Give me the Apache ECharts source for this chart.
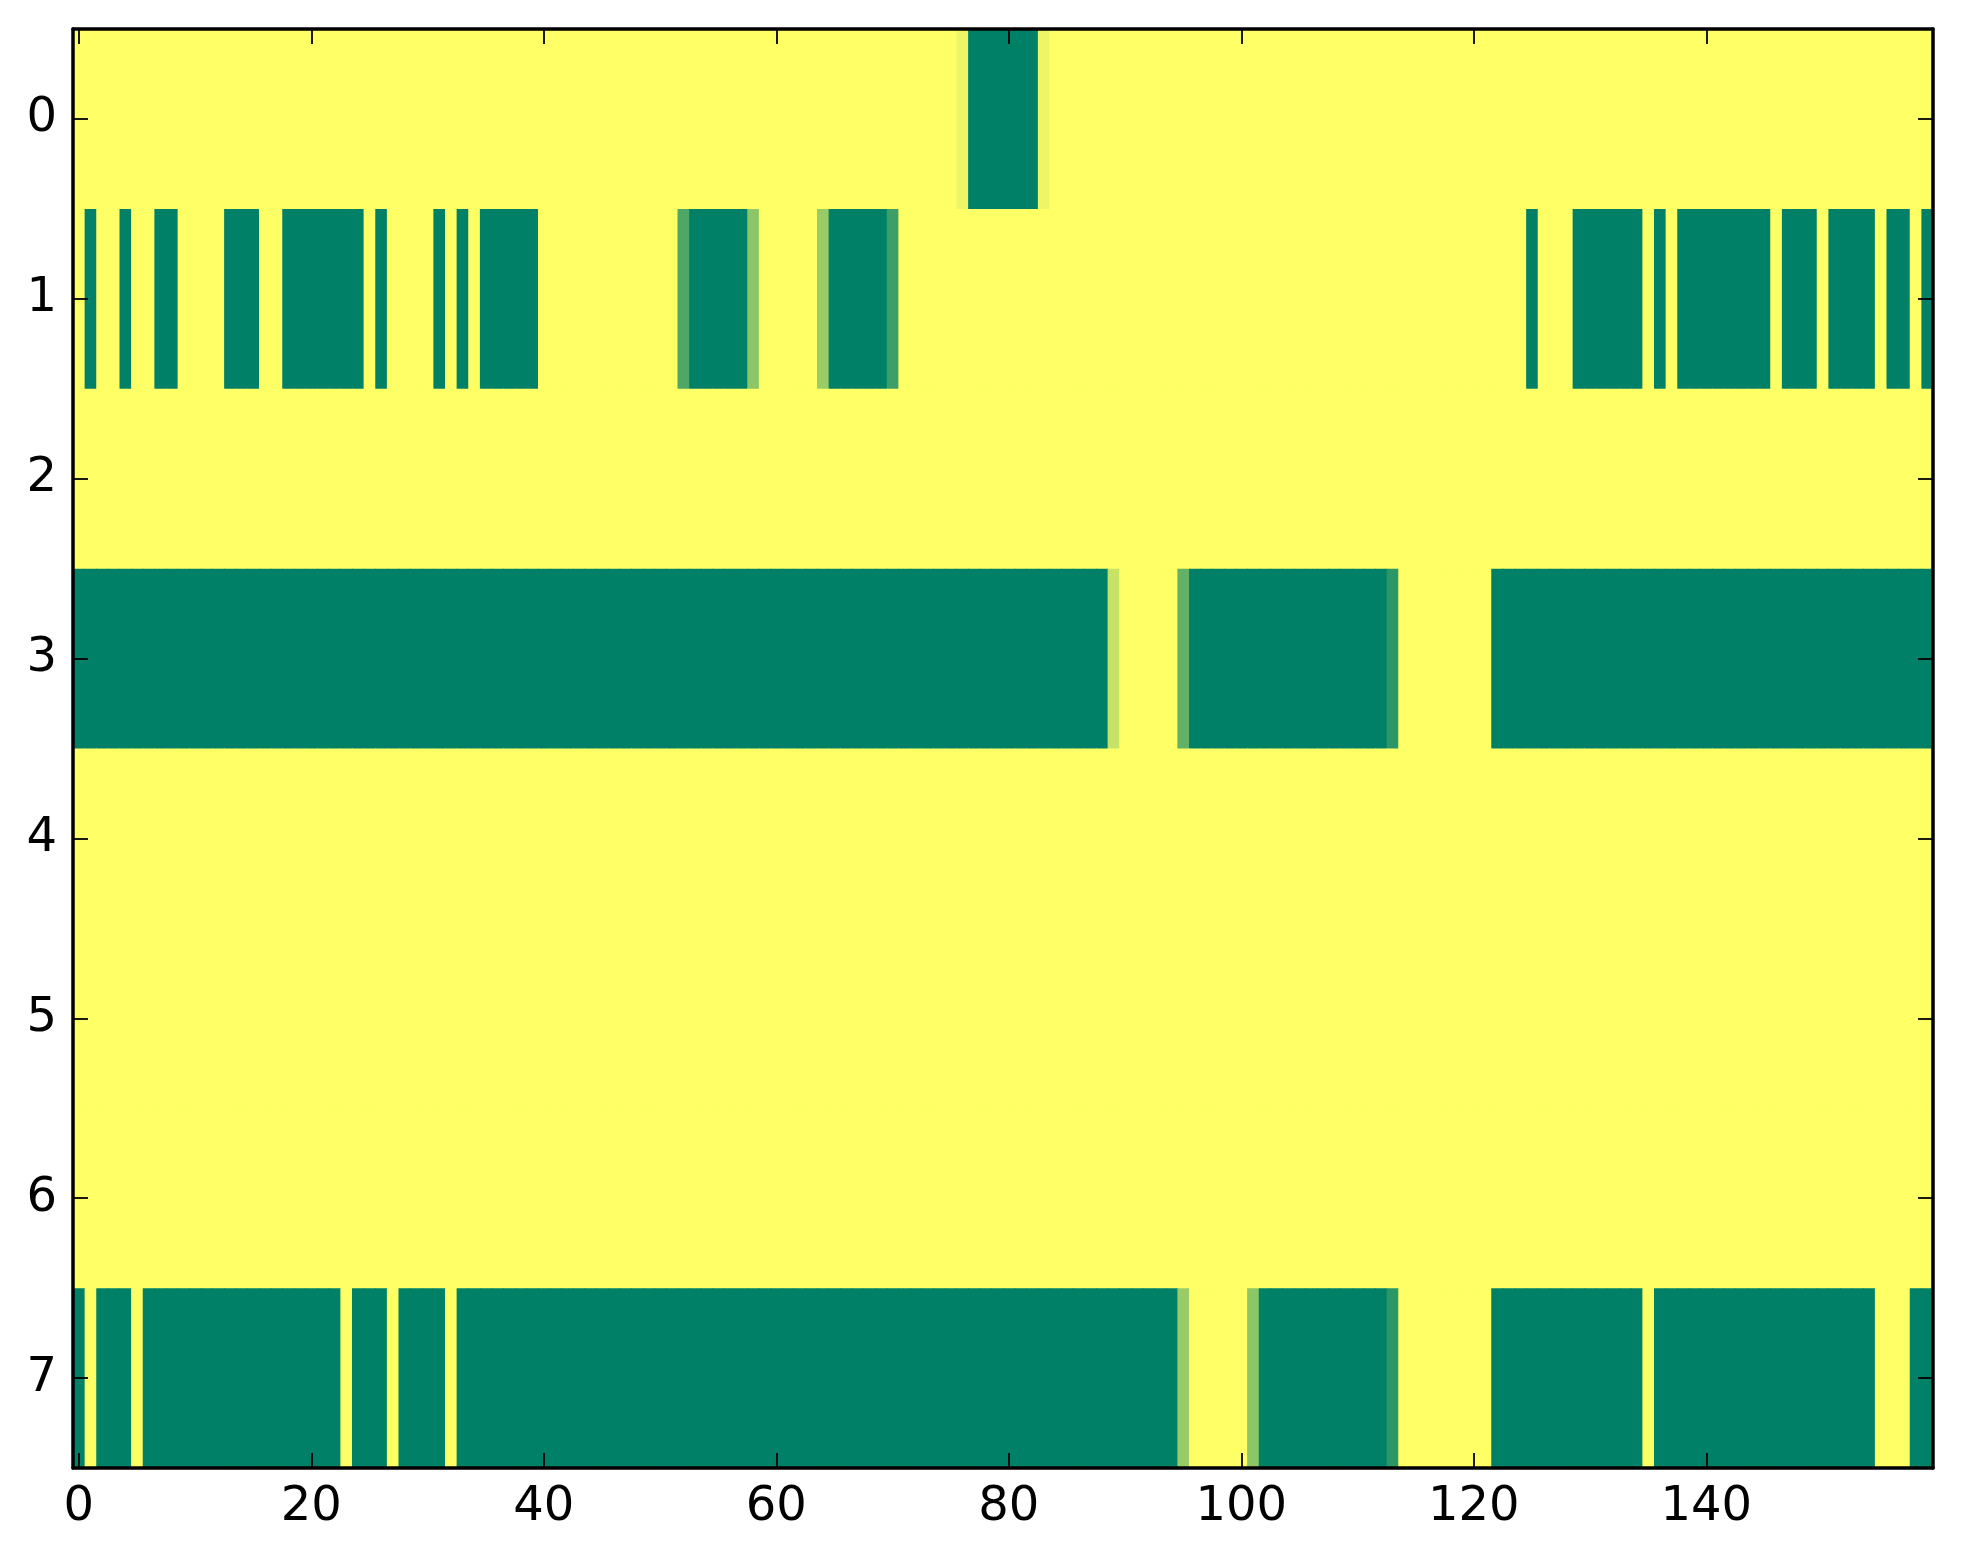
<!DOCTYPE html>
<html>
<head>
<meta charset="utf-8">
<script src="https://cdn.jsdelivr.net/npm/echarts@6/dist/echarts.min.js"></script>
<style>
html,body{margin:0;padding:0;background:#fff;}
#chart{width:1963px;height:1564px;}
</style>
</head>
<body>
<div id="chart"></div>
<script>
// Row values (0 = dark green, 1 = yellow), 160 columns each
var row0 = [
  1,1,1,1,1,1,1,1,1,1, 1,1,1,1,1,1,1,1,1,1, 1,1,1,1,1,1,1,1,1,1, 1,1,1,1,1,1,1,1,1,1,
  1,1,1,1,1,1,1,1,1,1, 1,1,1,1,1,1,1,1,1,1, 1,1,1,1,1,1,1,1,1,1, 1,1,1,1,1,1,0.93,0,0,0,
  0,0,0,0.93,1,1,1,1,1,1, 1,1,1,1,1,1,1,1,1,1, 1,1,1,1,1,1,1,1,1,1, 1,1,1,1,1,1,1,1,1,1,
  1,1,1,1,1,1,1,1,1,1, 1,1,1,1,1,1,1,1,1,1, 1,1,1,1,1,1,1,1,1,1, 1,1,1,1,1,1,1,1,1,1
];
var row1 = [
  1,0,1,1,0,1,1,0,0,1, 1,1,1,0,0,0,1,1,0,0, 0,0,0,0,0,1,0,1,1,1, 1,0,1,0,1,0,0,0,0,0,
  1,1,1,1,1,1,1,1,1,1, 1,1,0.31,0,0,0,0,0,0.55,1, 1,1,1,1,0.6,0,0,0,0,0, 0.24,1,1,1,1,1,1,1,1,1,
  1,1,1,1,1,1,1,1,1,1, 1,1,1,1,1,1,1,1,1,1, 1,1,1,1,1,1,1,1,1,1, 1,1,1,1,1,1,1,1,1,1,
  1,1,1,1,1,0,1,1,1,0, 0,0,0,0,0,1,0,1,0,0, 0,0,0,0,0,0,1,0,0,0, 1,0,0,0,0,1,0,0,1,0
];
var row2 = [
  1,1,1,1,1,1,1,1,1,1, 1,1,1,1,1,1,1,1,1,1, 1,1,1,1,1,1,1,1,1,1, 1,1,1,1,1,1,1,1,1,1,
  1,1,1,1,1,1,1,1,1,1, 1,1,1,1,1,1,1,1,1,1, 1,1,1,1,1,1,1,1,1,1, 1,1,1,1,1,1,1,1,1,1,
  1,1,1,1,1,1,1,1,1,1, 1,1,1,1,1,1,1,1,1,1, 1,1,1,1,1,1,1,1,1,1, 1,1,1,1,1,1,1,1,1,1,
  1,1,1,1,1,1,1,1,1,1, 1,1,1,1,1,1,1,1,1,1, 1,1,1,1,1,1,1,1,1,1, 1,1,1,1,1,1,1,1,1,1
];
var row3 = [
  0,0,0,0,0,0,0,0,0,0, 0,0,0,0,0,0,0,0,0,0, 0,0,0,0,0,0,0,0,0,0, 0,0,0,0,0,0,0,0,0,0,
  0,0,0,0,0,0,0,0,0,0, 0,0,0,0,0,0,0,0,0,0, 0,0,0,0,0,0,0,0,0,0, 0,0,0,0,0,0,0,0,0,0,
  0,0,0,0,0,0,0,0,0,0.78, 1,1,1,1,1,0.385,0,0,0,0, 0,0,0,0,0,0,0,0,0,0, 0,0,0,0.17,1,1,1,1,1,1,
  1,1,0,0,0,0,0,0,0,0, 0,0,0,0,0,0,0,0,0,0, 0,0,0,0,0,0,0,0,0,0, 0,0,0,0,0,0,0,0,0,0
];
var row4 = [
  1,1,1,1,1,1,1,1,1,1, 1,1,1,1,1,1,1,1,1,1, 1,1,1,1,1,1,1,1,1,1, 1,1,1,1,1,1,1,1,1,1,
  1,1,1,1,1,1,1,1,1,1, 1,1,1,1,1,1,1,1,1,1, 1,1,1,1,1,1,1,1,1,1, 1,1,1,1,1,1,1,1,1,1,
  1,1,1,1,1,1,1,1,1,1, 1,1,1,1,1,1,1,1,1,1, 1,1,1,1,1,1,1,1,1,1, 1,1,1,1,1,1,1,1,1,1,
  1,1,1,1,1,1,1,1,1,1, 1,1,1,1,1,1,1,1,1,1, 1,1,1,1,1,1,1,1,1,1, 1,1,1,1,1,1,1,1,1,1
];
var row5 = [
  1,1,1,1,1,1,1,1,1,1, 1,1,1,1,1,1,1,1,1,1, 1,1,1,1,1,1,1,1,1,1, 1,1,1,1,1,1,1,1,1,1,
  1,1,1,1,1,1,1,1,1,1, 1,1,1,1,1,1,1,1,1,1, 1,1,1,1,1,1,1,1,1,1, 1,1,1,1,1,1,1,1,1,1,
  1,1,1,1,1,1,1,1,1,1, 1,1,1,1,1,1,1,1,1,1, 1,1,1,1,1,1,1,1,1,1, 1,1,1,1,1,1,1,1,1,1,
  1,1,1,1,1,1,1,1,1,1, 1,1,1,1,1,1,1,1,1,1, 1,1,1,1,1,1,1,1,1,1, 1,1,1,1,1,1,1,1,1,1
];
var row6 = [
  1,1,1,1,1,1,1,1,1,1, 1,1,1,1,1,1,1,1,1,1, 1,1,1,1,1,1,1,1,1,1, 1,1,1,1,1,1,1,1,1,1,
  1,1,1,1,1,1,1,1,1,1, 1,1,1,1,1,1,1,1,1,1, 1,1,1,1,1,1,1,1,1,1, 1,1,1,1,1,1,1,1,1,1,
  1,1,1,1,1,1,1,1,1,1, 1,1,1,1,1,1,1,1,1,1, 1,1,1,1,1,1,1,1,1,1, 1,1,1,1,1,1,1,1,1,1,
  1,1,1,1,1,1,1,1,1,1, 1,1,1,1,1,1,1,1,1,1, 1,1,1,1,1,1,1,1,1,1, 1,1,1,1,1,1,1,1,1,1
];
var row7 = [
  0,1,0,0,0,1,0,0,0,0, 0,0,0,0,0,0,0,0,0,0, 0,0,0,1,0,0,0,1,0,0, 0,0,1,0,0,0,0,0,0,0,
  0,0,0,0,0,0,0,0,0,0, 0,0,0,0,0,0,0,0,0,0, 0,0,0,0,0,0,0,0,0,0, 0,0,0,0,0,0,0,0,0,0,
  0,0,0,0,0,0,0,0,0,0, 0,0,0,0,0,0.6,1,1,1,1, 1,0.55,0,0,0,0,0,0,0,0, 0,0,0,0.17,1,1,1,1,1,1,
  1,1,0,0,0,0,0,0,0,0, 0,0,0,0,0,1,0,0,0,0, 0,0,0,0,0,0,0,0,0,0, 0,0,0,0,0,1,1,1,0,0
];
var rows = [row0, row1, row2, row3, row4, row5, row6, row7];

var xCategories = row0.map(function (v, i) { return String(i); });
var yCategories = ['0', '1', '2', '3', '4', '5', '6', '7'];
var xTickLabels = ['0', '20', '40', '60', '80', '100', '120', '140'];

var data = [];
rows.forEach(function (r, y) {
  r.forEach(function (v, x) { data.push([x, y, v]); });
});

var FONT = 'DejaVu Sans';
var xTickFn = function (index) { return xTickLabels.indexOf(String(index)) >= 0; };
var lineStyle = { color: '#000', width: 3.5 };
var tickStyle = { color: '#000', width: 1.8 };

function xAxisCfg(pos, showLabel) {
  return {
    type: 'category', data: xCategories, position: pos, z: 10,
    axisLine: { show: true, onZero: false, lineStyle: lineStyle },
    axisTick: { show: true, inside: true, length: 15, alignWithLabel: true, interval: xTickFn, lineStyle: tickStyle },
    axisLabel: { show: showLabel, interval: xTickFn, color: '#000', fontFamily: FONT, fontSize: 48, margin: 16 },
    splitLine: { show: false }
  };
}
function yAxisCfg(pos, showLabel) {
  return {
    type: 'category', data: yCategories, position: pos, inverse: true, z: 10,
    axisLine: { show: true, onZero: false, lineStyle: lineStyle },
    axisTick: { show: true, inside: true, length: 15, alignWithLabel: true, interval: 0, lineStyle: tickStyle },
    axisLabel: { show: showLabel, interval: 0, color: '#000', fontFamily: FONT, fontSize: 48, margin: 16 },
    splitLine: { show: false }
  };
}

var chart = echarts.init(document.getElementById('chart'), null, { renderer: 'canvas' });
chart.setOption({
  backgroundColor: '#fff',
  animation: false,
  grid: { left: 73, right: 30, top: 29, bottom: 96, containLabel: false },
  xAxis: [xAxisCfg('bottom', true), xAxisCfg('top', false)],
  yAxis: [yAxisCfg('left', true), yAxisCfg('right', false)],
  visualMap: {
    show: false, type: 'continuous', min: 0, max: 1, dimension: 2, seriesIndex: 0,
    inRange: { color: ['#008066', '#FFFF66'] }
  },
  series: [{
    type: 'custom', xAxisIndex: 0, yAxisIndex: 0, data: data,
    encode: { x: 0, y: 1 },
    clip: true,
    silent: true,
    renderItem: function (params, api) {
      var p = api.coord([api.value(0), api.value(1)]);
      var s = api.size([1, 1]);
      return {
        type: 'rect',
        shape: { x: p[0] - s[0] / 2, y: p[1] - s[1] / 2, width: s[0] + 0.8, height: s[1] + 0.8 },
        style: { fill: api.visual('color') }
      };
    }
  }]
});
</script>
</body>
</html>
